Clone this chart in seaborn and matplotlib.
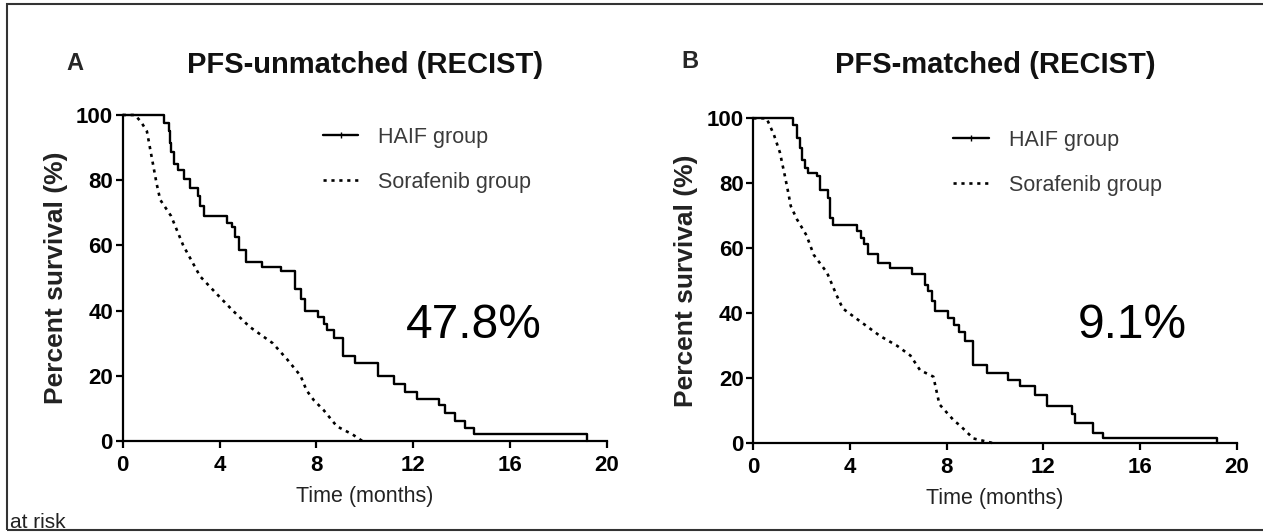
import matplotlib
matplotlib.use("Agg")
import matplotlib.pyplot as plt
import seaborn as sns
import pandas as pd
from matplotlib.lines import Line2D
from matplotlib.patches import Rectangle

# --- data (time in months, survival in %) ---
haif_a_time = [0, 1.7, 1.9, 1.95, 2.0, 2.1, 2.3, 2.55, 2.8, 3.1, 3.2, 3.35, 4.3, 4.5, 4.65,
               4.8, 5.1, 5.75, 6.55, 7.1, 7.35, 7.55, 8.05, 8.3, 8.45, 8.75, 9.1, 9.6, 10.55,
               11.2, 11.65, 12.15, 13.05, 13.3, 13.75, 14.15, 14.5, 19.2]
haif_a_surv = [100, 97.5, 95, 91.5, 88.5, 85, 83, 80.5, 77.5, 75, 72, 69, 67, 65.5, 62.5,
               58.5, 55, 53.5, 52, 46.5, 43.5, 40, 38, 36, 34, 31.5, 26, 24, 20,
               17.5, 15, 13, 11, 8.5, 6, 4, 2.2, 0]

sora_a_time = [0, 0.5, 0.75, 1.0, 1.2, 1.4, 1.55, 2.0, 2.5, 3.2, 3.9, 4.55, 5.25, 6.2, 6.8,
               7.35, 7.6, 7.9, 8.3, 8.85, 9.5, 9.9]
sora_a_surv = [100, 100, 98, 95, 87, 79, 74, 69, 60, 50.5, 45, 40, 35, 30, 25,
               20, 15.5, 12.5, 9.5, 4.5, 2, 0]

haif_b_time = [0, 1.65, 1.8, 1.93, 2.0, 2.14, 2.28, 2.62, 2.76, 3.1, 3.17, 3.31, 4.28, 4.45,
               4.6, 4.75, 5.17, 5.66, 6.55, 7.1, 7.24, 7.4, 7.52, 8.07, 8.3, 8.5, 8.76, 9.1,
               9.66, 10.55, 11.03, 11.66, 12.14, 13.17, 13.31, 14.07, 14.48, 19.17]
haif_b_surv = [100, 98, 94, 90.8, 87.3, 84.7, 83.2, 82.2, 78, 75.5, 69.3, 67.3, 65.3, 63.2,
               61.2, 58.1, 55.5, 54, 52, 48.8, 46.8, 43.7, 40.6, 38.6, 36.5, 34.4, 31.4, 24.2,
               21.6, 19.6, 17.5, 15, 11.4, 8.9, 6.3, 3.1, 1.5, 0]

sora_b_time = [0, 0.55, 0.85, 1.1, 1.3, 1.45, 1.55, 1.8, 2.2, 2.5, 3.05, 3.45, 3.7, 4.15, 4.7,
               5.25, 5.95, 6.5, 6.9, 7.45, 7.7, 8.3, 8.55, 9.1, 9.95]
sora_b_surv = [100, 100, 95, 89.5, 82.5, 77, 73, 69, 64, 58, 52.5, 45.5, 41.5, 39, 36,
               33, 30, 27, 22.5, 20.5, 12, 7, 5.5, 1.5, 0]

panel_letters = ["A", "B"]
panel_titles = ["PFS-unmatched (RECIST)", "PFS-matched (RECIST)"]
diff_labels = ["47.8%", "9.1%"]
group_names = ["HAIF group", "Sorafenib group"]
x_ticks = [0, 4, 8, 12, 16, 20]
y_ticks = [0, 20, 40, 60, 80, 100]

sns.set_theme(style="ticks")
plt.rcParams["font.family"] = ["Liberation Sans", "DejaVu Sans"]

W, H = 1263, 532
fig = plt.figure(figsize=(W / 100, H / 100), dpi=100)

# axes boxes in pixels: left, top, right, bottom
boxes = [(122.7, 115, 606.7, 441), (753.3, 118.3, 1236.7, 443.3)]
curves = [(haif_a_time, haif_a_surv, sora_a_time, sora_a_surv),
          (haif_b_time, haif_b_surv, sora_b_time, sora_b_surv)]
diff_pos = [(14.5, 35.5), (15.7, 36.4)]

sora_ls = (0, (1.2, 1.8))

for i, (l, t, r, b) in enumerate(boxes):
    ax = fig.add_axes([l / W, (H - b) / H, (r - l) / W, (b - t) / H])
    ht, hs, st, ss = curves[i]
    haif = pd.DataFrame({"time": ht, "surv": hs})
    sora = pd.DataFrame({"time": st, "surv": ss})
    sns.lineplot(data=haif, x="time", y="surv", ax=ax, color="black", lw=1.7,
                 drawstyle="steps-post", errorbar=None, clip_on=False, sort=False)
    sns.lineplot(data=sora, x="time", y="surv", ax=ax, color="black", lw=1.9,
                 linestyle=sora_ls, errorbar=None, clip_on=False, sort=False)

    ax.set_xlim(0, 20)
    ax.set_ylim(0, 100)
    ax.set_xticks(x_ticks)
    ax.set_yticks(y_ticks)
    sns.despine(ax=ax)
    for s in ["left", "bottom"]:
        ax.spines[s].set_linewidth(1.6)
        ax.spines[s].set_color("black")
    ax.tick_params(axis="both", length=5, width=1.6, color="black",
                   labelsize=16, labelcolor="black")
    ax.tick_params(axis="x", pad=5)
    ax.tick_params(axis="y", pad=2)
    for lab in ax.get_xticklabels() + ax.get_yticklabels():
        lab.set_fontweight("bold")

    ax.set_xlabel("Time (months)", fontsize=15.5, color="#222222", labelpad=7)
    ax.set_ylabel("Percent survival (%)", fontsize=19, fontweight="bold",
                  color="#222222", labelpad=6)

    ax.set_title(panel_titles[i], fontsize=21, fontweight="bold",
                 y=(b - 73) / (b - t), pad=0, color="#111111")
    letter_x = [66.7, 681.7][i]
    letter_base = [70, 68.3][i]
    fig.text(letter_x / W, (H - letter_base) / H, panel_letters[i],
             fontsize=17, fontweight="bold", va="baseline", ha="left")

    ax.text(diff_pos[i][0], diff_pos[i][1], diff_labels[i], fontsize=34.5,
            ha="center", va="center", color="black")

    handles = [Line2D([], [], color="black", lw=1.7, marker="|", ms=4),
               Line2D([], [], color="black", lw=1.9, linestyle=sora_ls)]
    leg_top = [127, 130][i]
    ax.legend(handles, group_names, loc="upper left",
              bbox_to_anchor=(0.414, (b - leg_top) / (b - t)),
              frameon=False, fontsize=15.5, borderpad=0, borderaxespad=0,
              handlelength=1.63, handletextpad=0.93, labelspacing=1.1,
              labelcolor="#3a3a3a")

# outer frame and the caption at the bottom edge
fig.patches.append(Rectangle((7 / W, 2 / H), 1.1, (H - 6) / H, transform=fig.transFigure,
                             fill=False, edgecolor="#333333", lw=1.5))
fig.text(10 / W, 4 / H, "at risk", fontsize=15, va="baseline", ha="left", color="#222222")

fig.savefig("out.png", dpi=100)
